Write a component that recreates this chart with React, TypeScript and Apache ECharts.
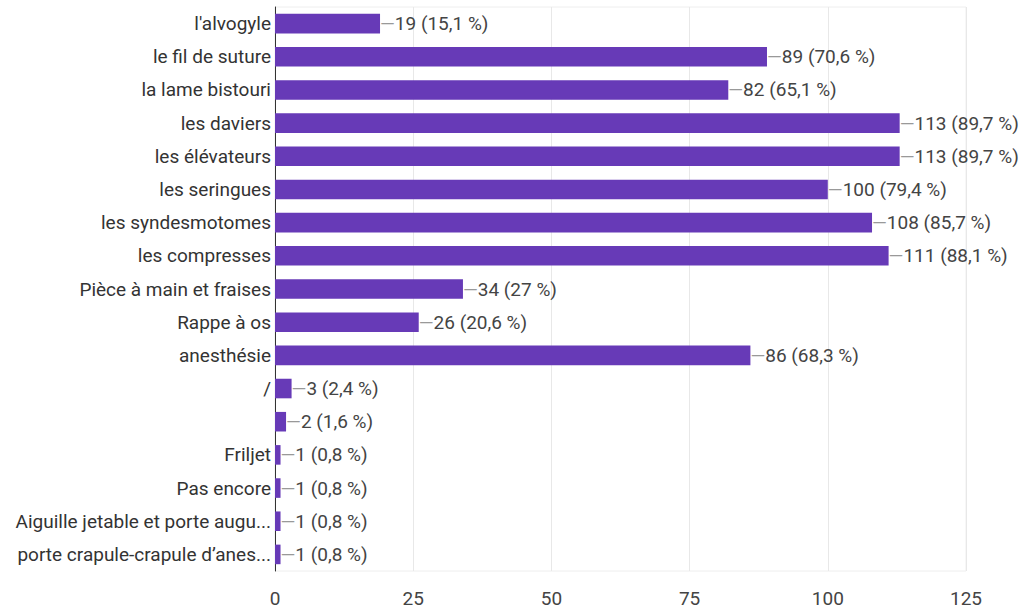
import React, { useEffect, useRef } from "react";
import * as echarts from "echarts";

const categories = [
  "l'alvogyle",
  "le fil de suture",
  "la lame bistouri",
  "les daviers",
  "les élévateurs",
  "les seringues",
  "les syndesmotomes",
  "les compresses",
  "Pièce à main et fraises",
  "Rappe à os",
  "anesthésie",
  "/",
  "",
  "Friljet",
  "Pas encore",
  "Aiguille jetable et porte augu...",
  "porte crapule-crapule d’anes...",
];
const counts = [19, 89, 82, 113, 113, 100, 108, 111, 34, 26, 86, 3, 2, 1, 1, 1, 1];
const percents = [
  "15,1", "70,6", "65,1", "89,7", "89,7", "79,4", "85,7", "88,1",
  "27", "20,6", "68,3", "2,4", "1,6", "0,8", "0,8", "0,8", "0,8",
];
const xTicks = [0, 25, 50, 75, 100, 125];

export default function App() {
  const ref = useRef<HTMLDivElement>(null);
  useEffect(() => {
    document.body.style.margin = "0";
    const chart = echarts.init(ref.current!, undefined, { renderer: "svg" });
    chart.setOption({
      animation: false,
      grid: {
        left: 275,
        right: 62,
        top: 7,
        bottom: 43,
        show: true,
        borderColor: "#eeeeee",
        borderWidth: 1,
      },
      xAxis: {
        type: "value",
        min: xTicks[0],
        max: xTicks[xTicks.length - 1],
        interval: 25,
        axisLine: { show: false },
        axisTick: { show: false },
        splitLine: { lineStyle: { color: "#e8e8e8" } },
        axisLabel: {
          color: "#444",
          fontFamily: "Roboto",
          fontSize: 19,
          margin: 18,
        },
      },
      yAxis: {
        type: "category",
        inverse: true,
        data: categories,
        axisLine: { lineStyle: { color: "#333", width: 1 } },
        axisTick: { show: false },
        axisLabel: {
          color: "#333",
          fontFamily: "Roboto",
          fontSize: 19,
          margin: 4,
        },
      },
      series: [
        {
          type: "bar",
          data: counts,
          barCategoryGap: "41%",
          itemStyle: { color: "#673ab7" },
          label: {
            show: true,
            position: "right",
            distance: 0,
            formatter: (p: any) =>
              `{d|—}{t|${counts[p.dataIndex]} (${percents[p.dataIndex]} %)}`,
            rich: {
              d: { color: "#999", fontFamily: "Roboto", fontSize: 19 },
              t: { color: "#444", fontFamily: "Roboto", fontSize: 19 },
            },
          },
        },
      ],
    });
    return () => chart.dispose();
  }, []);
  return <div ref={ref} style={{ width: 1028, height: 614 }} />;
}
